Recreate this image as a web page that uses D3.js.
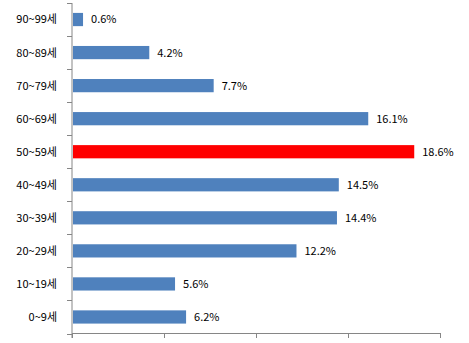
<!DOCTYPE html>
<html><head><meta charset="utf-8">
<script src="https://cdn.jsdelivr.net/npm/d3@7"></script>
<style>body{margin:0;background:#fff}svg{display:block}text{font-family:"Noto Sans CJK KR","Noto Sans",sans-serif;font-size:11px;fill:#000}</style>
</head><body><svg id="c" width="469" height="343"></svg>
<script>
const categories = ["90~99세","80~89세","70~79세","60~69세","50~59세","40~49세","30~39세","20~29세","10~19세","0~9세"];
const values = [0.6,4.2,7.7,16.1,18.6,14.5,14.4,12.2,5.6,6.2];
const xTicks = [0,5,10,15,20];
const highlight = "50~59세";

const svg = d3.select("#c");
const x = d3.scaleLinear().domain([0,20]).range([72,440]);
const y = d3.scaleBand().domain(categories).range([3,333.5]).paddingInner(0.6).paddingOuter(0.3);
const yb = d3.scaleBand().domain(categories).range([3,333.5]);
const axisColor = "#868686";

// bars
svg.selectAll("rect.bar").data(values).join("rect")
  .attr("x", x(0)+1).attr("y",(d,i)=>y(categories[i]))
  .attr("width", d=>x(d)-x(0)-1).attr("height", y.bandwidth())
  .attr("fill",(d,i)=>categories[i]===highlight?"#FF0000":"#4F81BD");

// value labels
svg.selectAll("text.val").data(values).join("text")
  .attr("x", d=>x(d)+8).attr("y",(d,i)=>y(categories[i])+y.bandwidth()/2)
  .attr("dy","0.36em").text(d=>d.toFixed(1)+"%");

// y axis
const ya = svg.append("g");
ya.append("line").attr("x1",72).attr("x2",72).attr("y1",3).attr("y2",338).attr("stroke",axisColor);
const bounds = categories.map(c=>yb(c)).concat([yb(categories[categories.length-1])+yb.bandwidth()]);
ya.selectAll("line.t").data(bounds).join("line")
  .attr("x1",67).attr("x2",72).attr("y1",d=>Math.round(d)+0.5).attr("y2",d=>Math.round(d)+0.5).attr("stroke",axisColor);
ya.selectAll("text").data(categories).join("text")
  .attr("x",57).attr("y",c=>yb(c)+yb.bandwidth()/2).attr("dy","0.36em").attr("text-anchor","end").text(c=>c);

// x axis
const xa = svg.append("g");
xa.append("line").attr("x1",72).attr("x2",440.5).attr("y1",333.5).attr("y2",333.5).attr("stroke",axisColor);
xa.selectAll("line.t").data(xTicks).join("line")
  .attr("x1",d=>Math.round(x(d))+0.5).attr("x2",d=>Math.round(x(d))+0.5).attr("y1",333).attr("y2",338).attr("stroke",axisColor);
</script></body></html>
